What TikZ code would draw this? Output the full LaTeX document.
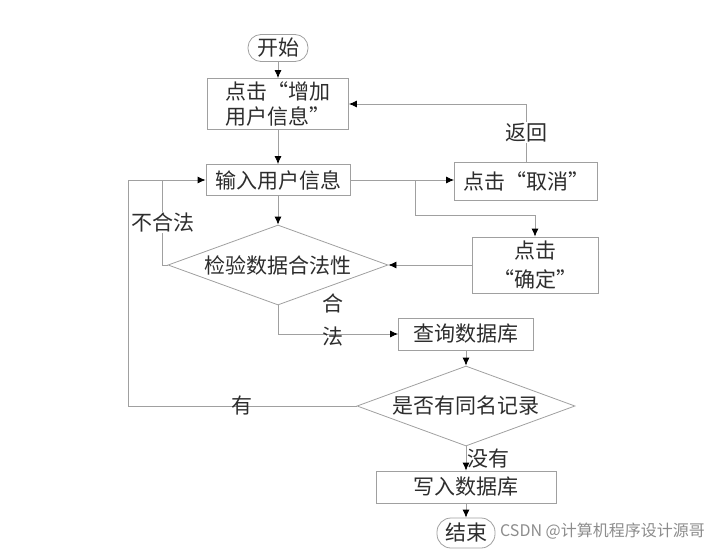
\documentclass[tikz,border=0pt]{standalone}
\usepackage{fontspec}
\setmainfont{Noto Sans CJK SC}
\usetikzlibrary{shapes.geometric,arrows.meta}
\definecolor{linegray}{RGB}{160,160,160}
\definecolor{textgray}{RGB}{45,45,45}
\definecolor{markgray}{RGB}{140,140,140}

\begin{document}
\begin{tikzpicture}[x=1pt,y=-1pt,
  line/.style={draw=linegray,line width=0.8pt},
  arr/.style={line,-{Latex[length=8pt,width=7pt,black]}},
  box/.style={draw=linegray,line width=0.8pt,inner sep=0pt,align=center,text=textgray,font=\fontsize{21}{25}\selectfont},
  term/.style={box,rounded corners=13pt},
  decide/.style={box,diamond,aspect=2.75},
  lbl/.style={text=textgray,inner sep=1pt,font=\fontsize{21}{25}\selectfont}]
\useasboundingbox (0,0) rectangle (728,552);

% nodes
\node[term,minimum width=60pt,minimum height=27pt] (start) at (278,48) {开始};
\node[box,minimum width=141pt,minimum height=51pt] (add) at (278,104) {点击“增加\\用户信息”};
\node[box,minimum width=144pt,minimum height=31pt] (input) at (278,180) {输入用户信息};
\node[box,minimum width=143pt,minimum height=38pt] (cancel) at (526,181) {点击“取消”};
\node[box,minimum width=126pt,minimum height=56pt,font=\fontsize{21}{29}\selectfont] (confirm) at (535,265) {点击\\“确定”};
\node[decide,minimum width=220pt,minimum height=80pt] (check) at (278,265) {检验数据合法性};
\node[box,minimum width=135pt,minimum height=32pt] (query) at (466,334) {查询数据库};
\node[decide,minimum width=218pt,minimum height=80pt] (dup) at (466,406) {是否有同名记录};
\node[box,minimum width=180pt,minimum height=32pt] (write) at (466,487) {写入数据库};
\node[term,minimum width=58pt,minimum height=30pt,rounded corners=14pt] (stop) at (466,533) {结束};

\coordinate (fork) at (415,180);
\coordinate (loop) at (128,406);

% connectors
\draw[arr] (start) -- (add);
\draw[arr] (add) -- (input);
\draw[arr] (input) -- (check);
\draw[arr] (input.east) -- (input.east -| cancel.west);
\draw[arr] (fork) -- ++(0,35) -| (confirm.north);
\draw[arr] (cancel.north) |- (add.east) node[pos=0.25,lbl,fill=white] (back) {返回};
\draw[arr] (confirm) -- (check);
\draw[line] (check.west) -- ++(-5,0) coordinate (bad) -- (bad |- input.west) node[midway,lbl,fill=white] (illegal) {不合法};
\draw[arr] (check.south) |- (query.west);
\node[lbl,align=center,font=\fontsize{21}{33}\selectfont] (legal) at (333,320) {合\\法};
\draw[arr] (query) -- (dup);
\draw[arr] (dup.west) -- (loop) node[midway,lbl] (yes) {有} |- (input.west);
\draw[arr] (dup) -- (write) node[midway,right,lbl] (no) {没有};
\draw[arr] (write) -- (stop);

\node[anchor=west,inner sep=0pt,text=markgray,font=\fontsize{16}{20}\selectfont] (mark) at (500,531) {CSDN @计算机程序设计源哥};
\end{tikzpicture}
\end{document}
